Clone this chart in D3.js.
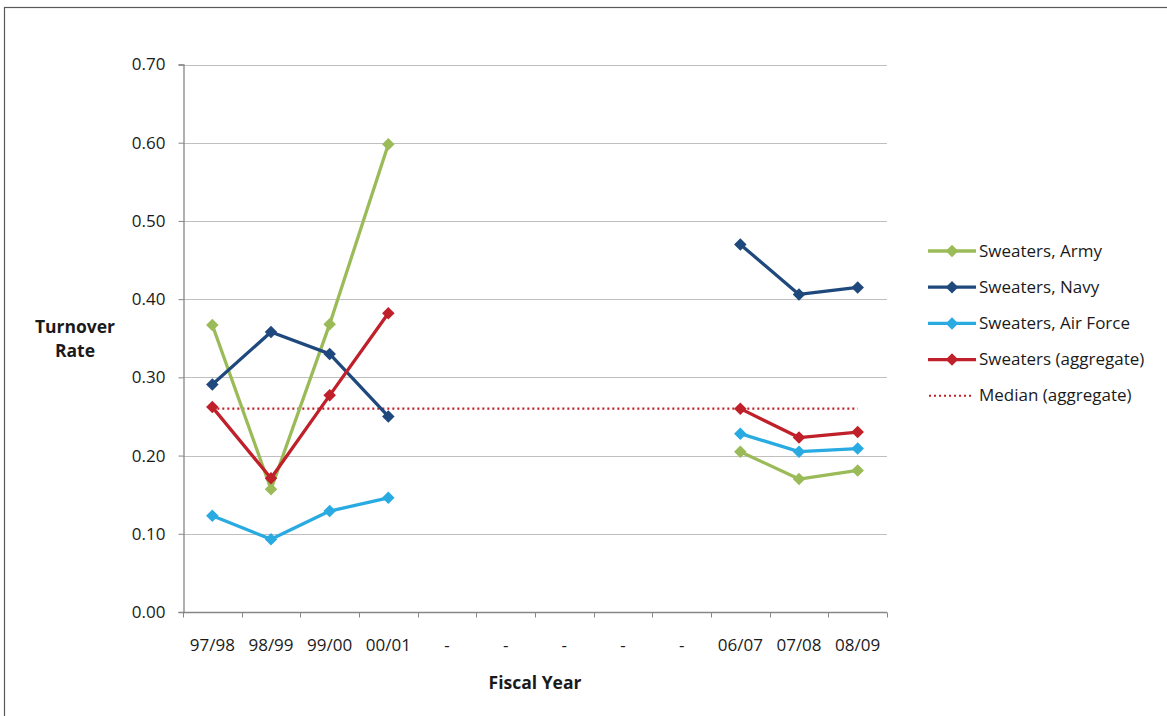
<!DOCTYPE html>
<html>
<head>
<meta charset="utf-8">
<script src="https://cdn.jsdelivr.net/npm/d3@7"></script>
<style>
  html, body { margin: 0; padding: 0; background: #fff; }
  svg { display: block; }
  text { font-family: "Open Sans", Lato, sans-serif; fill: #1a1a1a; }
</style>
</head>
<body>
<svg id="chart" width="1167" height="716"></svg>
<script>
// Fiscal years on the category axis ("-" marks years without data)
const categories = ["97/98", "98/99", "99/00", "00/01", "-1", "-2", "-3", "-4", "-5", "06/07", "07/08", "08/09"];
const categoryLabels = ["97/98", "98/99", "99/00", "00/01", "-", "-", "-", "-", "-", "06/07", "07/08", "08/09"];

// Turnover rates per service (null = no data)
const army      = [0.367, 0.157, 0.368, 0.598, null, null, null, null, null, 0.205, 0.170, 0.181];
const navy      = [0.291, 0.358, 0.330, 0.250, null, null, null, null, null, 0.470, 0.406, 0.415];
const airForce  = [0.123, 0.093, 0.129, 0.146, null, null, null, null, null, 0.228, 0.205, 0.209];
const aggregate = [0.262, 0.171, 0.277, 0.382, null, null, null, null, null, 0.260, 0.223, 0.230];
const medianAggregate = 0.260;

const yTicks = [0, 0.1, 0.2, 0.3, 0.4, 0.5, 0.6, 0.7];

const seriesList = [
  { name: "Sweaters, Army", values: army, color: "#9BBB59" },
  { name: "Sweaters, Navy", values: navy, color: "#1F497D" },
  { name: "Sweaters, Air Force", values: airForce, color: "#29ABE2" },
  { name: "Sweaters (aggregate)", values: aggregate, color: "#C0202A" }
];

const FONT = 17;
const svg = d3.select("#chart");

// outer chart frame
svg.append("rect")
  .attr("x", 4.5).attr("y", 7.5).attr("width", 1200).attr("height", 800)
  .attr("fill", "none").attr("stroke", "#595959").attr("stroke-width", 1.2);

const plot = { left: 183, right: 887, top: 64.5, bottom: 612 };

const x = d3.scaleBand().domain(categories).range([plot.left, plot.right]);
const y = d3.scaleLinear().domain([0, 0.7]).range([plot.bottom, plot.top]);
const cx = c => x(c) + x.bandwidth() / 2;

// horizontal gridlines
svg.append("g")
  .selectAll("line")
  .data(yTicks.filter(d => d > 0))
  .join("line")
  .attr("x1", plot.left).attr("x2", plot.right)
  .attr("y1", d => Math.round(y(d)) + 0.5).attr("y2", d => Math.round(y(d)) + 0.5)
  .attr("stroke", "#bfbfbf").attr("stroke-width", 1);

// y axis
const yAxis = svg.append("g")
  .attr("transform", `translate(${plot.left + 0.5},0)`)
  .call(d3.axisLeft(y).tickValues(yTicks).tickFormat(d3.format(".2f")).tickSize(5).tickPadding(13));
yAxis.select(".domain").attr("stroke", "#868686").attr("stroke-width", 1.3);
yAxis.selectAll(".tick line").attr("stroke", "#868686");
yAxis.selectAll(".tick text").attr("font-size", FONT).attr("fill", "#1a1a1a")
  .style("font-family", "'Open Sans', Lato, sans-serif");

// x axis with ticks at band boundaries
const xAxisG = svg.append("g").attr("transform", `translate(0,${plot.bottom + 0.5})`);
xAxisG.append("line")
  .attr("x1", plot.left).attr("x2", plot.right)
  .attr("stroke", "#868686").attr("stroke-width", 1.3);
xAxisG.selectAll("line.tk")
  .data(categories.map(c => x(c)).concat([plot.right]))
  .join("line").attr("class", "tk")
  .attr("x1", d => Math.round(d) + 0.5).attr("x2", d => Math.round(d) + 0.5)
  .attr("y1", 0).attr("y2", 5)
  .attr("stroke", "#868686");
xAxisG.selectAll("text")
  .data(categories)
  .join("text")
  .attr("x", d => cx(d))
  .attr("y", 38.5)
  .attr("text-anchor", "middle")
  .attr("font-size", FONT)
  .text((d, i) => categoryLabels[i]);

// axis titles
svg.append("text")
  .attr("text-anchor", "middle")
  .attr("font-size", 17.5).attr("font-weight", "bold")
  .selectAll("tspan")
  .data(["Turnover", "Rate"])
  .join("tspan")
  .attr("x", 75)
  .attr("y", (d, i) => 333 + i * 24)
  .text(d => d);

svg.append("text")
  .attr("x", 535).attr("y", 689)
  .attr("text-anchor", "middle")
  .attr("font-size", 17.5).attr("font-weight", "bold")
  .text("Fiscal Year");

// median reference line
svg.append("line")
  .attr("x1", cx(categories[0])).attr("x2", cx(categories[categories.length - 1]))
  .attr("y1", y(medianAggregate)).attr("y2", y(medianAggregate))
  .attr("stroke", "#C0202A").attr("stroke-width", 2.2)
  .attr("stroke-dasharray", "2,3");

// series lines and diamond markers
const line = d3.line()
  .defined(d => d.v !== null)
  .x(d => cx(d.c))
  .y(d => y(d.v));

const diamond = d3.symbol().type(d3.symbolDiamond2).size(100);

seriesList.forEach(s => {
  const pts = categories.map((c, i) => ({ c, v: s.values[i] }));
  const g = svg.append("g");
  g.append("path")
    .datum(pts)
    .attr("d", line)
    .attr("fill", "none")
    .attr("stroke", s.color)
    .attr("stroke-width", 3.3)
    .attr("stroke-linejoin", "round");
  g.selectAll("path.mk")
    .data(pts.filter(d => d.v !== null))
    .join("path").attr("class", "mk")
    .attr("transform", d => `translate(${cx(d.c)},${y(d.v)})`)
    .attr("d", diamond)
    .attr("fill", s.color);
});

// legend
const legend = svg.append("g");
const legendItems = seriesList.map(s => ({ name: s.name, color: s.color, dotted: false }))
  .concat([{ name: "Median (aggregate)", color: "#C0202A", dotted: true }]);
const ly0 = 251, lstep = 36.2;
legendItems.forEach((d, i) => {
  const ly = ly0 + i * lstep;
  if (d.dotted) {
    legend.append("line")
      .attr("x1", 929).attr("x2", 971).attr("y1", ly).attr("y2", ly)
      .attr("stroke", d.color).attr("stroke-width", 2).attr("stroke-dasharray", "2,3");
  } else {
    legend.append("line")
      .attr("x1", 928).attr("x2", 976).attr("y1", ly).attr("y2", ly)
      .attr("stroke", d.color).attr("stroke-width", 3.3);
    legend.append("path")
      .attr("transform", `translate(952,${ly})`)
      .attr("d", diamond)
      .attr("fill", d.color);
  }
  legend.append("text")
    .attr("x", 979).attr("y", ly + 5.5)
    .attr("font-size", FONT)
    .text(d.name);
});
</script>
</body>
</html>
